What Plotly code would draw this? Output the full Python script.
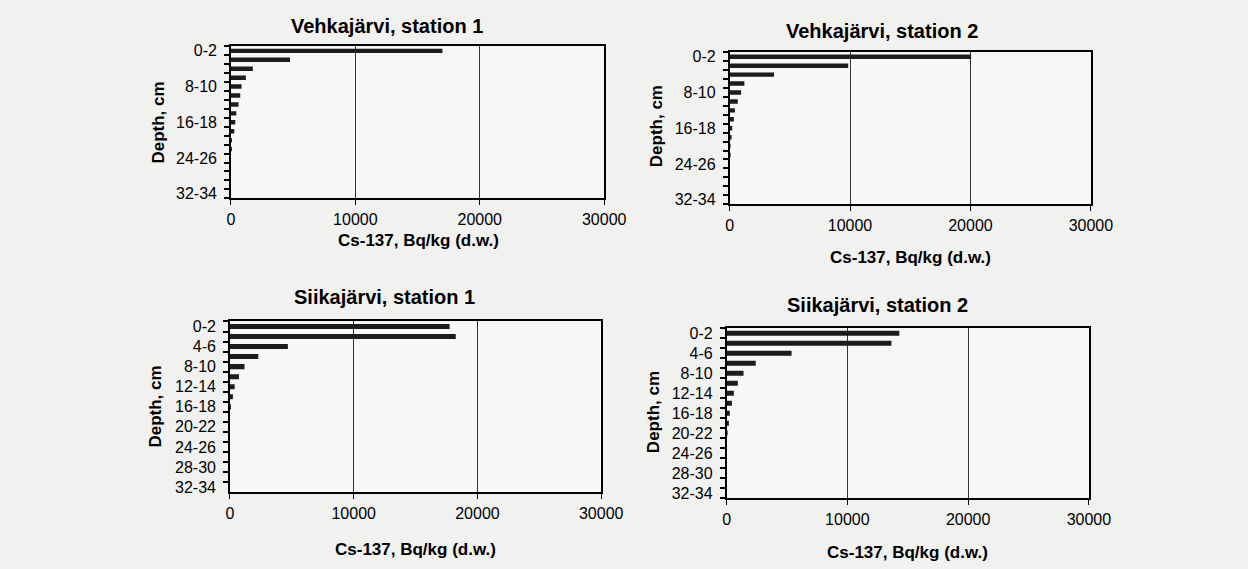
import plotly.graph_objects as go

# ---- data ----
depths = ["0-2", "2-4", "4-6", "6-8", "8-10", "10-12", "12-14", "14-16", "16-18",
          "18-20", "20-22", "22-24", "24-26", "26-28", "28-30", "30-32", "32-34"]

vehka_st1 = [17000, 4750, 1760, 1200, 850, 750, 610, 430, 350, 270, 80, 30, 0, 0, 0, 0, 0]
vehka_st2 = [20050, 9850, 3690, 1230, 960, 680, 440, 355, 220, 140, 80, 30, 0, 0, 0, 0, 0]
siika_st1 = [17750, 18250, 4680, 2290, 1180, 730, 380, 240, 80, 0, 0, 0, 0, 0, 0, 0, 0]
siika_st2 = [14300, 13650, 5380, 2410, 1400, 930, 600, 440, 270, 190, 80, 0, 0, 0, 0, 0, 0]

titles = ["Vehkajärvi, station 1", "Vehkajärvi, station 2",
          "Siikajärvi, station 1", "Siikajärvi, station 2"]
x_title = "Cs-137, Bq/kg (d.w.)"
y_title = "Depth, cm"
x_ticks = [0, 10000, 20000, 30000]
label_steps = [4, 4, 2, 2]

series = [vehka_st1, vehka_st2, siika_st1, siika_st2]

# ---- layout geometry (pixels) ----
W, H = 1248, 569
XCORR = 1.0165  # compensation for horizontal squeeze observed in the capture
# left, right, top, bottom of each plot area
boxes = [(228, 603, 43, 197), (729, 1092, 49, 203),
         (227, 600, 322, 495), (726, 1090, 329, 501)]
title_pos = [(385, 22), (882, 27), (382, 297), (878, 305)]
xtitle_pos = [(416, 240), (911, 257), (413, 553), (908, 556)]
ytitle_pos = [(155, 120), (655, 124), (152, 408), (652, 414)]

FONT = "Arial, Liberation Sans, sans-serif"
BAR = "#1c1c1c"
PAPER = "#f1f1f0"

def fx(x):
    return min(1.0, x * XCORR / W)

def fy(y):
    return 1 - y / H

fig = go.Figure()
annotations = []
layout = {}

for i, (vals, box) in enumerate(zip(series, boxes), start=1):
    l, r, t, b = box
    xa = "x" if i == 1 else f"x{i}"
    ya = "y" if i == 1 else f"y{i}"
    fig.add_trace(go.Bar(x=vals, y=depths, orientation="h", xaxis=xa, yaxis=ya,
                         marker=dict(color=BAR, line=dict(width=0)), width=0.5,
                         showlegend=False))
    step = label_steps[i - 1]
    ticktext = [d if k % step == 0 else "" for k, d in enumerate(depths)]
    layout[f"xaxis{'' if i == 1 else i}"] = dict(
        domain=[fx(l), fx(r)], anchor=ya, range=[0, 30000],
        tickmode="array", tickvals=x_ticks, ticktext=[str(v) for v in x_ticks],
        ticks="outside", ticklen=5, tickcolor="black", tickwidth=1,
        showgrid=True, gridcolor="#333333", gridwidth=1, zeroline=False,
        showline=True, linecolor="black", linewidth=1.5, mirror=True,
        ticklabelstandoff=1,
        tickfont=dict(family=FONT, size=16, color="black"), fixedrange=True)
    layout[f"yaxis{'' if i == 1 else i}"] = dict(
        domain=[fy(b), fy(t)], anchor=xa, type="category",
        categoryorder="array", categoryarray=depths, autorange="reversed",
        tickmode="array", tickvals=depths, ticktext=ticktext, tickson="boundaries",
        ticks="outside", ticklen=5, tickcolor="black", tickwidth=1.5,
        showgrid=False, showline=True, linecolor="black", linewidth=1.5, mirror=True,
        ticklabelstandoff=9,
        tickfont=dict(family=FONT, size=16, color="black"), fixedrange=True)

    tx, ty = title_pos[i - 1]
    annotations.append(dict(text=f"<b>{titles[i-1]}</b>", x=fx(tx), y=fy(ty),
                            xref="paper", yref="paper", showarrow=False,
                            xanchor="center", yanchor="middle",
                            font=dict(family=FONT, size=20, color="black")))
    ax_, ay_ = xtitle_pos[i - 1]
    annotations.append(dict(text=f"<b>{x_title}</b>", x=fx(ax_), y=fy(ay_),
                            xref="paper", yref="paper", showarrow=False,
                            xanchor="center", yanchor="middle",
                            font=dict(family=FONT, size=17, color="black")))
    bx, by = ytitle_pos[i - 1]
    annotations.append(dict(text=f"<b>{y_title}</b>", x=fx(bx), y=fy(by),
                            xref="paper", yref="paper", showarrow=False,
                            xanchor="center", yanchor="middle", textangle=-90,
                            font=dict(family=FONT, size=17, color="black")))

fig.update_layout(**layout)
fig.update_layout(
    width=W, height=H, autosize=False,
    margin=dict(l=0, r=0, t=0, b=0, pad=0),
    paper_bgcolor=PAPER, plot_bgcolor="#f7f7f6",
    annotations=annotations, bargap=0.5,
    font=dict(family=FONT, color="black"),
)

fig.write_html(
    "out.html",
    config={"displayModeBar": False},
    post_script=("document.body.style.margin='0';"
                 "document.body.style.overflow='hidden';"
                 f"document.body.style.background='{PAPER}';"),
)
